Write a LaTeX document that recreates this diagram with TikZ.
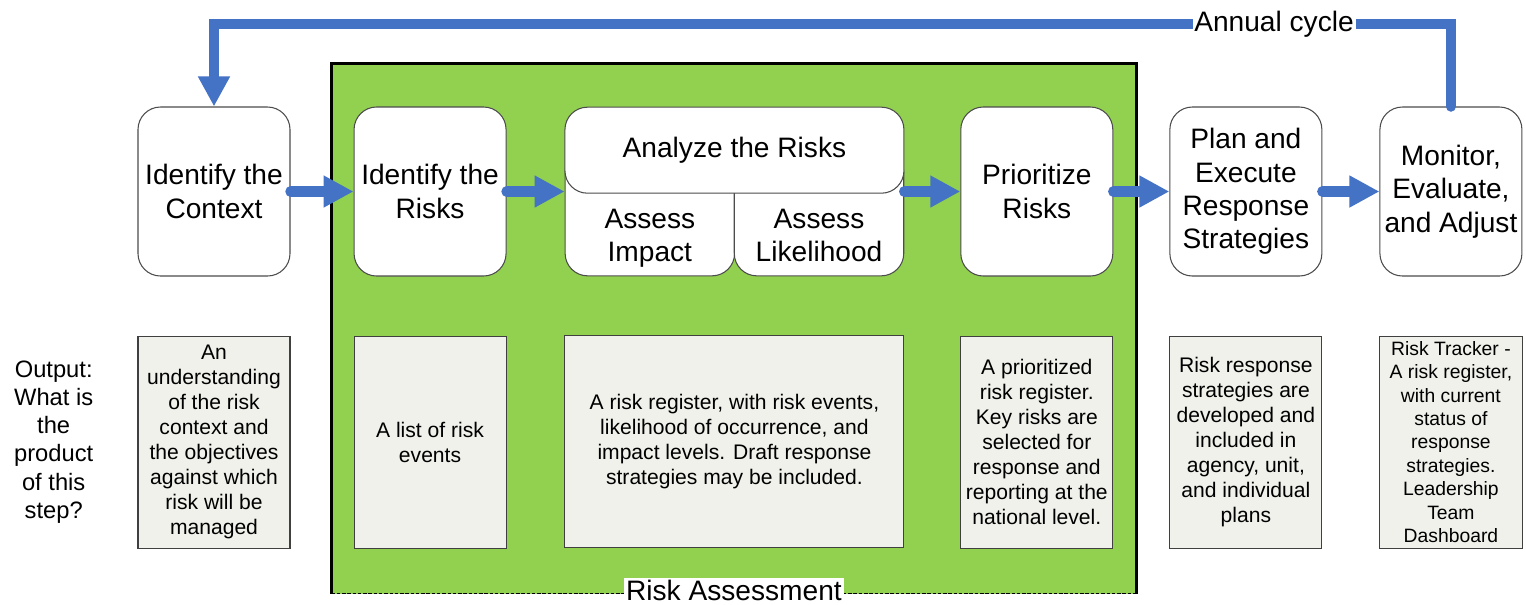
\documentclass[tikz,border=0pt]{standalone}
\usepackage{fontspec}
\setmainfont{Liberation Sans}
\usepackage{xcolor}
\usetikzlibrary{arrows.meta, positioning, calc, backgrounds}

\definecolor{cycblue}{RGB}{68,114,196}
\definecolor{riskgreen}{RGB}{146,208,80}
\definecolor{outfill}{RGB}{241,241,235}

\begin{document}
\begin{tikzpicture}[
  font=\fontsize{16}{19}\selectfont,
  stepbox/.style={draw=black!70, line width=0.6pt, fill=white, rounded corners=0.45cm, align=center, inner sep=2pt, minimum width=3.04cm, minimum height=3.38cm},
  outbox/.style={draw=black!75, line width=0.6pt, fill=outfill, align=center, inner sep=2pt, minimum width=3.04cm, minimum height=4.24cm, font=\fontsize{12}{14.2}\selectfont},
  asktxt/.style={align=center, text depth=3.5pt},
  flow/.style={cycblue, line width=6pt, line cap=round, -{Triangle[length=6mm, width=6mm]}},
  lbl/.style={fill=white, text=black, inner sep=1pt},
]
\useasboundingbox (0,0) rectangle (30.52,-12.08);

\node[stepbox] (ctx) at (4.28,-3.83) {Identify the\\Context};
\node[stepbox, right=1.26cm of ctx] (risks) {Identify the\\Risks};
\node[minimum width=6.78cm, minimum height=3.38cm, inner sep=0pt, right=1.16cm of risks] (anlz) {};
\node[stepbox, right=1.12cm of anlz] (prio) {Prioritize\\Risks};
\node[stepbox, right=1.12cm of prio] (plan) {Plan and\\Execute\\Response\\Strategies};
\node[stepbox, minimum width=2.84cm, right=1.14cm of plan] (mon) {Monitor,\\Evaluate,\\and Adjust};

\node[stepbox, minimum width=3.39cm, minimum height=2.52cm, anchor=south west] (impact) at (anlz.south west) {};
\node[stepbox, minimum width=3.39cm, minimum height=2.52cm, anchor=south east] (likely) at (anlz.south east) {};
\node[stepbox, minimum width=6.78cm, minimum height=1.72cm, anchor=north] (analyze) at (anlz.north) {Analyze the Risks};
\node[asktxt] (impacttxt) at ($(impact.south)!0.3!(impact.north)$) {Assess\\Impact};
\node[asktxt] (likelytxt) at ($(likely.south)!0.3!(likely.north)$) {Assess\\Likelihood};

\node[outbox, below=1.18cm of ctx] (octx) {An\\understanding\\of the risk\\context and\\the objectives\\against which\\risk will be\\managed};
\node[outbox, below=1.18cm of risks] (orisks) {A list of risk\\events};
\node[outbox, minimum width=6.78cm, below=1.18cm of anlz] (oanlz) {A risk register, with risk events,\\likelihood of occurrence, and\\impact levels. Draft response\\strategies may be included.};
\node[outbox, below=1.18cm of prio] (oprio) {A prioritized\\risk register.\\Key risks are\\selected for\\response and\\reporting at the\\national level.};
\node[outbox, below=1.18cm of plan] (oplan) {Risk response\\strategies are\\developed and\\included in\\agency, unit,\\and individual\\plans};
\node[outbox, minimum width=2.86cm, font=\fontsize{11}{13.3}\selectfont, below=1.18cm of mon] (omon) {Risk Tracker -\\A risk register,\\with current\\status of\\response\\strategies.\\Leadership\\Team\\Dashboard};
\node[align=center, font=\fontsize{13.5}{16}\selectfont, left=0.76cm of octx] (outq) {Output:\\What is\\the\\product\\of this\\step?};

\begin{scope}[on background layer]
  \coordinate (gtl) at ([xshift=-0.44cm, yshift=0.86cm]risks.north west);
  \coordinate (gbr) at ([xshift=0.46cm, yshift=-0.9cm]oprio.south east);
  \fill[riskgreen] (gtl) rectangle (gbr);
  \draw[line width=1.7pt] (gtl |- gbr) -- (gtl) -- (gtl -| gbr) -- (gbr);
  \draw[line width=0.5pt, dash pattern=on 2pt off 1pt] (gtl |- gbr) -- (gbr);
\end{scope}
\node[lbl, yshift=2pt] (ralbl) at ($(gtl |- gbr)!0.5!(gbr)$) {Risk Assessment};

\draw[flow] (ctx) -- (risks);
\draw[flow] (risks) -- (anlz);
\draw[flow] (anlz) -- (prio);
\draw[flow] (prio) -- (plan);
\draw[flow] (plan) -- (mon);

\coordinate (top) at (0,-0.48);
\draw[flow] (mon.north) -- (mon.north |- top) -- node[lbl, pos=0.143] {Annual cycle} (ctx.north |- top) -- (ctx.north);
\end{tikzpicture}
\end{document}
